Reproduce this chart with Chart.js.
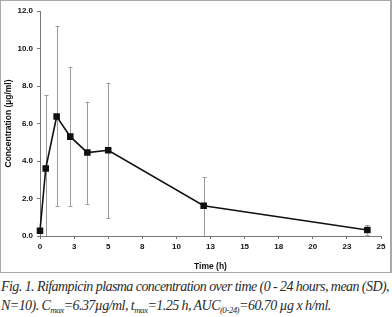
<!DOCTYPE html>
<html>
<head>
<meta charset="utf-8">
<script src="https://cdn.jsdelivr.net/npm/chart.js@4/dist/chart.umd.min.js"></script>
<style>
  html, body { margin: 0; padding: 0; background: #fff; }
  #frame {
    position: absolute; left: 0; top: 0;
    width: 389px; height: 271px;
    border: 1px solid #a8a8a8; border-right-width: 2px;
  }
  #frame canvas { display: block; }
  #caption {
    position: absolute; left: 1px; top: 277px;
    font-family: "Liberation Serif", serif; font-style: italic;
    font-size: 14px; line-height: 19px; color: #2a2a2a;
    white-space: nowrap;
  }
  #caption span { display: inline-block; }
  #caption sub { font-size: 9px; vertical-align: -3px; line-height: 0; }
</style>
</head>
<body>
<div id="frame"><canvas id="chart" width="389" height="271"></canvas></div>
<div id="caption"><span id="cap1">Fig. 1. Rifampicin plasma concentration over time (0 - 24 hours, mean (SD),</span><br><span id="cap2">N=10). C<sub>max</sub>=6.37µg/ml, t<sub>max</sub>=1.25 h, AUC<sub>(0-24)</sub>=60.70 µg x h/ml.</span></div>
<script>
// sampling times (h) and mean concentration (µg/ml)
const times = [0, 0.42, 1.22, 2.22, 3.47, 5, 12, 24]
const meanConc = [0.28, 3.6, 6.37, 5.3, 4.45, 4.57, 1.61, 0.32]
// error bar ends (mean ± SD, clipped at 0)
const upperConc = [0.28, 7.5, 11.19, 8.99, 7.16, 8.17, 3.14, 0.59]
const lowerConc = [0.28, 0, 1.61, 1.61, 1.72, 0.96, 0, 0.08]
const xTicks = [0, 2.5, 5, 7.5, 10, 12.5, 15, 17.5, 20, 22.5, 25]
const yTicks = [0, 2, 4, 6, 8, 10, 12]

// squeeze the caption so the first line spans the frame width, like the figure
const cap1 = document.getElementById('cap1')
const cap2 = document.getElementById('cap2')
const spacing = (388 - cap1.getBoundingClientRect().width) / cap1.textContent.length
cap1.style.letterSpacing = spacing + 'px'
cap2.style.letterSpacing = spacing + 'px'

const errorBars = {
  id: 'errorBars',
  beforeDatasetsDraw (chart) {
    const { ctx, scales: { x, y } } = chart
    ctx.save()
    ctx.strokeStyle = '#9a9a9a'
    ctx.lineWidth = 1
    times.forEach((t, i) => {
      if (upperConc[i] === lowerConc[i]) return
      const px = Math.round(x.getPixelForValue(t)) + 0.5
      const top = y.getPixelForValue(upperConc[i])
      const bot = y.getPixelForValue(lowerConc[i])
      ctx.beginPath()
      ctx.moveTo(px, top)
      ctx.lineTo(px, bot)
      ctx.moveTo(px - 2, Math.round(top) + 0.5)
      ctx.lineTo(px + 2, Math.round(top) + 0.5)
      if (lowerConc[i] > 0) {
        ctx.moveTo(px - 2, Math.round(bot) + 0.5)
        ctx.lineTo(px + 2, Math.round(bot) + 0.5)
      }
      ctx.stroke()
    })
    ctx.restore()
  }
}

const tickFont = { family: '"Liberation Sans", Arial, sans-serif', size: 8, weight: 'bold' }
const titleFont = { family: '"Liberation Sans", Arial, sans-serif', size: 8.5, weight: 'bold' }

new Chart(document.getElementById('chart'), {
  type: 'scatter',
  data: {
    datasets: [{
      data: times.map((t, i) => ({ x: t, y: meanConc[i] })),
      showLine: true,
      borderColor: '#111',
      borderWidth: 1.6,
      backgroundColor: '#111',
      pointStyle: 'rect',
      pointRadius: 3.5,
      pointHoverRadius: 3.5,
      clip: false
    }]
  },
  options: {
    responsive: false,
    animation: false,
    events: [],
    layout: { padding: { top: 10, right: 9, left: 3, bottom: 0 } },
    plugins: { legend: { display: false }, tooltip: { enabled: false } },
    scales: {
      x: {
        type: 'linear',
        min: 0,
        max: 25,
        afterBuildTicks: (scale) => { scale.ticks = xTicks.map(v => ({ value: v })) },
        afterFit: (scale) => { scale.height = 36 },
        ticks: {
          font: tickFont,
          color: '#111',
          padding: 3,
          maxRotation: 0,
          callback: (v) => String(Math.round(v))
        },
        grid: { drawOnChartArea: false, color: '#777', tickLength: 3 },
        border: { color: '#777', width: 1 },
        title: { display: true, text: 'Time (h)', font: titleFont, color: '#111', padding: { top: 2, bottom: 0 } }
      },
      y: {
        min: 0,
        max: 12,
        afterBuildTicks: (scale) => { scale.ticks = yTicks.map(v => ({ value: v })) },
        afterFit: (scale) => { scale.width = 36 },
        ticks: {
          font: tickFont,
          color: '#111',
          padding: 4,
          callback: (v) => v.toFixed(1)
        },
        grid: { drawOnChartArea: false, color: '#777', tickLength: 3 },
        border: { color: '#777', width: 1 },
        title: { display: true, text: 'Concentration (µg/ml)', font: titleFont, color: '#111', padding: { top: 0, bottom: 0 } }
      }
    }
  },
  plugins: [errorBars]
})
</script>
</body>
</html>
